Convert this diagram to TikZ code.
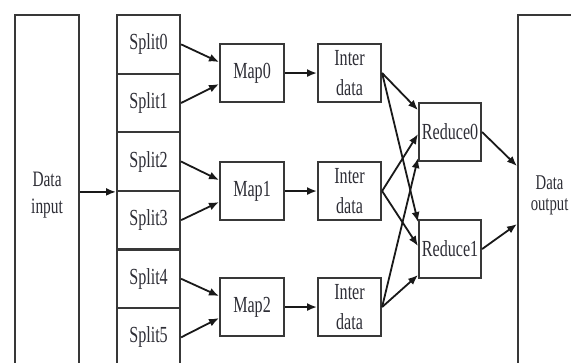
\documentclass[tikz,border=0pt]{standalone}
\usepackage{fontspec}
\setmainfont[FakeStretch=0.7]{Liberation Serif}
\usetikzlibrary{arrows.meta}
\definecolor{boxc}{HTML}{383838}
\definecolor{txtc}{HTML}{2E2E36}
\begin{document}
\begin{tikzpicture}[x=1pt,y=-1pt,
  box/.style={draw=boxc, line width=2.1pt, inner sep=0pt, align=center, text=txtc,
              font=\fontsize{23}{30}\selectfont, anchor=north west},
  splitbox/.style={box, minimum width=63pt, minimum height=58.6pt},
  procbox/.style={box, minimum width=63pt, minimum height=58pt},
  bigbox/.style={box, minimum width=64pt, minimum height=360pt},
  arr/.style={draw=black!90, line width=1.8pt, -{Latex[length=10pt,width=8pt]}}]
\useasboundingbox (0,0) rectangle (571,362);
\fill[white] (0,0) rectangle (571,362);
\clip (0,0) rectangle (571,362);
% input / output
\node[bigbox, font=\fontsize{22}{27}\selectfont] (in) at (14,14) {Data\\input};
\node[bigbox, minimum width=63pt, font=\fontsize{21}{21}\selectfont] (out) at (517,14) {Data\\output};
% splits
\foreach \i in {0,...,5} {
  \node[splitbox] (s\i) at (116,{14+58.6*\i}) {Split\i};
}
% maps
\node[procbox, minimum width=64pt] (m0) at (219,43) {Map0};
\node[procbox, minimum width=64pt] (m1) at (219,161) {Map1};
\node[procbox, minimum width=64pt] (m2) at (219,277) {Map2};
% inter data
\node[procbox] (d0) at (317,43) {Inter\\data};
\node[procbox] (d1) at (317,161) {Inter\\data};
\node[procbox] (d2) at (317,277) {Inter\\data};
% reduce
\node[procbox, minimum width=62pt] (r0) at (418,102) {Reduce0};
\node[procbox, minimum width=62pt] (r1) at (418,219) {Reduce1};
% arrows
\draw[arr] (in.east |- s2.south) -- (s2.south west);
\draw[arr] (s0.east) -- ([yshift=11pt]m0.west);
\draw[arr] (s1.east) -- ([yshift=-11pt]m0.west);
\draw[arr] (s2.east) -- ([yshift=11pt]m1.west);
\draw[arr] (s3.east) -- ([yshift=-11pt]m1.west);
\draw[arr] (s4.east) -- ([yshift=11pt]m2.west);
\draw[arr] (s5.east) -- ([yshift=-11pt]m2.west);
\draw[arr] (m0.east) -- (d0.west);
\draw[arr] (m1.east) -- (d1.west);
\draw[arr] (m2.east) -- (d2.west);
\draw[arr] (d0.east) -- ([yshift=22pt]r0.west);
\draw[arr] (d1.east) -- ([yshift=-2pt]r0.west);
\draw[arr] (d2.east) -- ([yshift=-26pt]r0.west);
\draw[arr] (d0.east) -- ([yshift=27pt]r1.west);
\draw[arr] (d1.east) -- ([yshift=3pt]r1.west);
\draw[arr] (d2.east) -- ([yshift=-26pt]r1.west);
\draw[arr] (r0.east) -- ([yshift=29pt]out.west);
\draw[arr] (r1.east) -- ([yshift=-29pt]out.west);
\end{tikzpicture}
\end{document}
